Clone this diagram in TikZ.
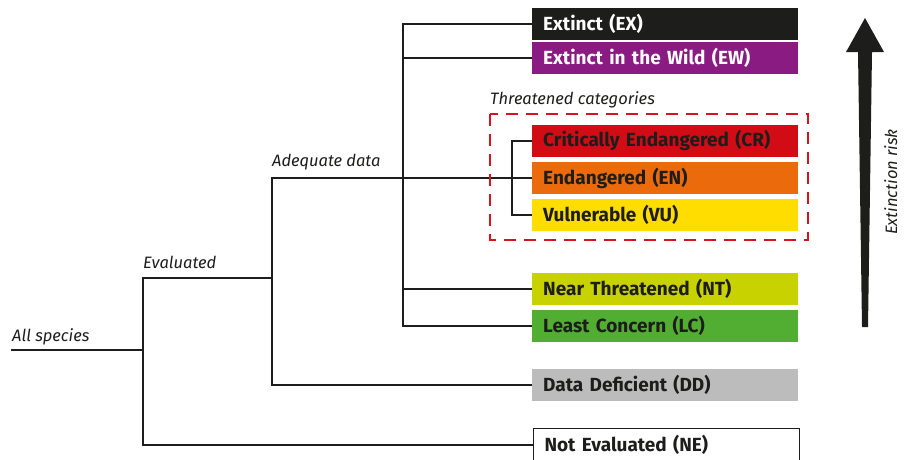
\documentclass[tikz,border=0pt]{standalone}
\usepackage{fontspec}
\setmainfont{Fira Sans}
\usetikzlibrary{positioning}

\definecolor{colEX}{HTML}{1D1D1B}
\definecolor{colEW}{HTML}{8A1B83}
\definecolor{colCR}{HTML}{D20C14}
\definecolor{colEN}{HTML}{EA6A0C}
\definecolor{colVU}{HTML}{FFDD00}
\definecolor{colNT}{HTML}{C8D200}
\definecolor{colLC}{HTML}{52AD33}
\definecolor{colDD}{HTML}{BCBCBC}
\definecolor{colDash}{HTML}{D7141E}

\begin{document}
\begin{tikzpicture}[x=1pt, y=-1pt]
			\tikzstyle{Cat}		= [anchor=west, minimum width=266pt, minimum height=32pt, inner xsep=11pt, inner ysep=0pt, text width=244pt, align=left, font=\fontsize{19}{22}\selectfont\bfseries]
			\tikzstyle{Branch}	= [line width=2pt, colEX]
			\tikzstyle{Group}	= [font=\fontsize{16.5}{19}\selectfont\itshape, text=colEX, inner sep=0pt]
			
			\useasboundingbox (0,0) rectangle (904,459);
			
			% category boxes
			\foreach \nm/\yy/\fc/\tc/\lbl in {ex/23.5/colEX/white/Extinct (EX), ew/58/colEW/white/Extinct in the Wild (EW), cr/140.5/colCR/colEX/Critically Endangered (CR), en/178/colEN/colEX/Endangered (EN), vu/214.5/colVU/colEX/Vulnerable (VU), nt/288.5/colNT/colEX/Near Threatened (NT), lc/325.5/colLC/colEX/Least Concern (LC), dd/384.5/colDD/colEX/Data Deficient (DD)}
				\node (\nm) at (532,\yy) [Cat, fill=\fc, text=\tc] {\lbl};
			\node (ne) at (533,444.5) [Cat, draw=colEX, line width=1pt, fill=white, text=colEX, minimum width=265pt] {Not Evaluated (NE)};
			
			% tree
			\coordinate (root) at (11,350);
			\coordinate (evl) at (143,350);
			\coordinate (ade) at (272,278);
			\coordinate (adq) at (403,178);
			\coordinate (thr) at (512,178);
			\draw [Branch] (root) -- (evl);
			\draw [Branch] (evl) |- (ade);
			\draw [Branch] (evl) |- (ne.west);
			\draw [Branch] (ade) |- (adq);
			\draw [Branch] (ade) |- (dd.west);
			\foreach \nm in {ex, ew, nt, lc}
				\draw [Branch] (adq) |- (\nm.west);
			\draw [Branch] (adq) -- (en.west);
			\foreach \nm in {cr, vu}
				\draw [Branch] (thr) |- (\nm.west);
			
			\draw [colDash, line width=2.3pt, dash pattern=on 12pt off 8pt] (490,114) rectangle (808,240);
			
			\node (lAll) at (12,341) [Group, anchor=base west] {All species};
			\node (lEvl) at (143,268) [Group, anchor=base west] {Evaluated};
			\node (lAdq) at (272,166) [Group, anchor=base west] {Adequate data};
			\node (lThr) at (490,104) [Group, anchor=base west] {Threatened categories};
			
			% risk arrow
			\fill [colEX] (865,18) -- (884,52) -- (872,52) -- (868,327) -- (862,327) -- (858,52) -- (846,52) -- cycle;
			\node (lRisk) at (897,182) [Group, rotate=90, anchor=base] {Extinction risk};
		\end{tikzpicture}
\end{document}
